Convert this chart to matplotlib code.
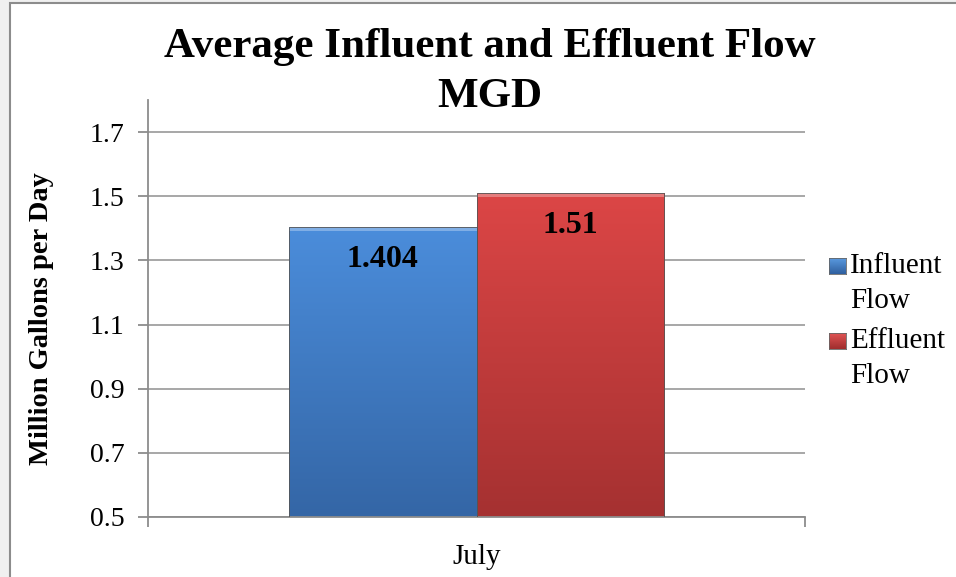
import matplotlib.pyplot as plt
from matplotlib.patches import Rectangle
from matplotlib.colors import LinearSegmentedColormap
import numpy as np

plt.rcParams['font.family'] = ['Liberation Serif', 'DejaVu Serif']

categories = ["July"]
series = ["Influent\nFlow", "Effluent\nFlow"]
values = [1.404, 1.51]
labels = ["1.404", "1.51"]
yticks = [0.5, 0.7, 0.9, 1.1, 1.3, 1.5, 1.7]

# top/bottom colours for the bar gradients
grad = [("#4b8ddb", "#3466a6"), ("#dc4646", "#a53131")]
legend_col = [("#5a9ae0", "#2f5f9e"), ("#e05454", "#a02e2e")]

fig = plt.figure(figsize=(9.56, 5.77), dpi=100)
fig.patch.set_facecolor("#f0f0f0")
# white chart area with a grey frame
fig.patches.append(Rectangle((10 / 956, -0.1), 1.1, 1 - 3 / 577 + 0.1,
                             transform=fig.transFigure, facecolor="white",
                             edgecolor="#8c8c8c", linewidth=1.5, zorder=-5))

ax = fig.add_axes([148 / 956, 1 - 517 / 577, 657 / 956, 417 / 577])
ax.set_facecolor("none")
ax.set_zorder(1)

w = 0.286
xs = [-w / 2, w / 2]
g = np.linspace(0, 1, 256).reshape(-1, 1)
for x, v, (c1, c2), lab in zip(xs, values, grad, labels):
    bars = ax.bar(x, v - 0.5, bottom=0.5, width=w, color="none",
                  edgecolor="#555555", linewidth=0.6, zorder=3)
    cmap = LinearSegmentedColormap.from_list("g", [c2, c1])
    im = ax.imshow(g, cmap=cmap, aspect="auto", origin="lower",
                   extent=[x - w / 2, x + w / 2, 0.5, v], zorder=2)
    im.set_clip_path(bars[0])
    # light bevel along the top edge
    ax.bar(x, 0.012, bottom=v - 0.012, width=w, color="white", alpha=0.3,
           linewidth=0, zorder=2.5)
    ax.text(x, v - 0.1, lab, ha="center", va="center", fontsize=23,
            fontweight="bold", zorder=4)

ax.set_xlim(-0.5, 0.5)
ax.set_ylim(0.5, 1.8)
ax.set_yticks(yticks)
ax.set_yticklabels([f"{t:.1f}" for t in yticks], fontsize=20)
ax.yaxis.grid(True, color="#a0a0a0", linewidth=1.3)
ax.set_axisbelow(True)
for s in ["top", "right"]:
    ax.spines[s].set_visible(False)
for s in ["left", "bottom"]:
    ax.spines[s].set_color("#8c8c8c")
    ax.spines[s].set_linewidth(1.3)
ax.tick_params(axis="y", direction="out", length=7, color="#8c8c8c", width=1.3, pad=10)
ax.set_xticks([-0.5, 0.5])
ax.set_xticklabels(["", ""])
ax.tick_params(axis="x", direction="out", length=7, color="#8c8c8c", width=1.3)
ax.text(0.5, -0.095, categories[0], transform=ax.transAxes, ha="center", va="center",
        fontsize=21)

ax.set_ylabel("Million Gallons per Day", fontsize=20.5, fontweight="bold")
ax.yaxis.set_label_coords(-94 / 657, 0.475)
fig.text(490 / 956, 1 - 47 / 577, "Average Influent and Effluent Flow",
         ha="center", va="center", fontsize=31, fontweight="bold")
fig.text(490 / 956, 1 - 97 / 577, "MGD", ha="center", va="center",
         fontsize=31, fontweight="bold")

# legend drawn by hand: marker next to first line of each label
row_y = [266, 341]
for (c1, c2), lab, yc in zip(legend_col, series, row_y):
    lax = fig.add_axes([829 / 956, 1 - (yc + 8) / 577, 17 / 956, 16 / 577])
    lax.imshow(g, cmap=LinearSegmentedColormap.from_list("l", [c2, c1]),
               aspect="auto", origin="lower", extent=[0, 1, 0, 1])
    lax.set_xticks([])
    lax.set_yticks([])
    for sp in lax.spines.values():
        sp.set_color("#666666")
        sp.set_linewidth(0.6)
    for i, line in enumerate(lab.split("\n")):
        fig.text(850 / 956, 1 - (yc + 35 * i) / 577, line, ha="left", va="center",
                 fontsize=21)

fig.savefig("out.png", dpi=100, facecolor=fig.get_facecolor())
